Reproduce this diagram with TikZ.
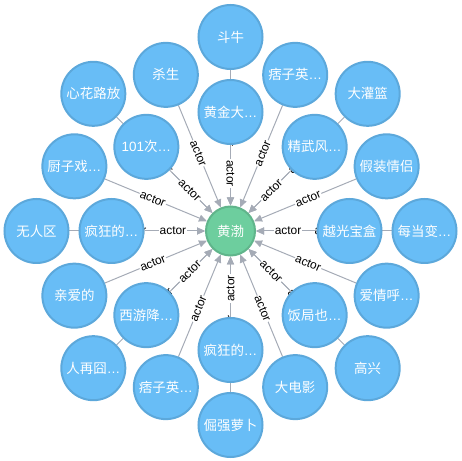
\documentclass[tikz,border=0pt]{standalone}
\usepackage{fontspec}
\setmainfont{Liberation Sans}
\newfontfamily\cjk{Noto Sans CJK SC}
\usepackage{tikz}
\usetikzlibrary{arrows.meta, backgrounds}
\definecolor{MovieBlue}{HTML}{68BDF6}
\definecolor{MovieRim}{HTML}{5CA8DB}
\definecolor{ActorGreen}{HTML}{6DCE9E}
\definecolor{ActorRim}{HTML}{60B58B}
\definecolor{LinkGray}{HTML}{A5ABB6}
\newcommand\trunc{{\rmfamily …}}
\tikzset{
  movie/.style={circle, draw=MovieRim, fill=MovieBlue, line width=2bp,
    minimum size=64bp, inner sep=0pt, text=white,
    font=\cjk\fontsize{13.5}{15}\selectfont},
  actornode/.style={circle, draw=ActorRim, fill=ActorGreen, line width=2bp,
    minimum size=49bp, inner sep=0pt, text=white,
    font=\cjk\fontsize{13.5}{15}\selectfont},
  actedin/.style={draw=LinkGray, line width=1bp,
    -{Triangle[length=8bp,width=7bp]}},
  rolelabel/.style={fill=white, inner sep=0.8bp, sloped, pos=0.47,
    text=black, font=\fontsize{12}{12}\selectfont}
}
\begin{document}
\begin{tikzpicture}[x=1bp,y=1bp]
\useasboundingbox (-230.5,-230) rectangle (230.5,231);

% the person in the middle
\node[actornode] (huangbo) at (0,0) {黄渤};

% inner ring
\node[movie] (yueguang)   at (0:119)   {越光宝盒};
\node[movie] (jingwu)     at (45:119)  {精武风\trunc};
\node[movie] (huangjin)   at (90:119)  {黄金大\trunc};
\node[movie] (yiling)     at (135:119) {{\rmfamily 101}次\trunc};
\node[movie] (fengkuangA) at (180:119) {疯狂的\trunc};
\node[movie] (xiyou)      at (225:119) {西游降\trunc};
\node[movie] (fengkuangB) at (270:119) {疯狂的\trunc};
\node[movie] (fanju)      at (315:119) {饭局也\trunc};

% outer ring, behind the inner one
\node[movie] (meidang)    at (0:194)   {每当变\trunc};
\node[movie] (daguanlan)  at (45:194)  {大灌篮};
\node[movie] (douniu)     at (90:194)  {斗牛};
\node[movie] (xinhua)     at (135:194) {心花路放};
\node[movie] (wurenqu)    at (180:194) {无人区};
\node[movie] (renzai)     at (225:194) {人再囧\trunc};
\node[movie] (juejiang)   at (270:194) {倔强萝卜};
\node[movie] (gaoxing)    at (315:194) {高兴};

% outer ring, in the gaps
\node[movie] (jiazhuang)  at (22.5:169)  {假装情侣};
\node[movie] (piziA)      at (67.5:169)  {痞子英\trunc};
\node[movie] (shasheng)   at (112.5:169) {杀生};
\node[movie] (chuzi)      at (157.5:169) {厨子戏\trunc};
\node[movie] (qinai)      at (202.5:169) {亲爱的};
\node[movie] (piziB)      at (247.5:169) {痞子英\trunc};
\node[movie] (dadianying) at (292.5:169) {大电影};
\node[movie] (aiqing)     at (337.5:169) {爱情呼\trunc};

\begin{scope}[on background layer]
\foreach \film in {meidang, daguanlan, douniu, xinhua, wurenqu, renzai,
    juejiang, gaoxing, jiazhuang, piziA, shasheng, chuzi, qinai, piziB,
    dadianying, aiqing, yueguang, jingwu, huangjin, yiling, fengkuangA,
    xiyou, fengkuangB, fanju}
  \draw[actedin] (\film) -- node[rolelabel] {actor} (huangbo);
\end{scope}
\end{tikzpicture}
\end{document}
